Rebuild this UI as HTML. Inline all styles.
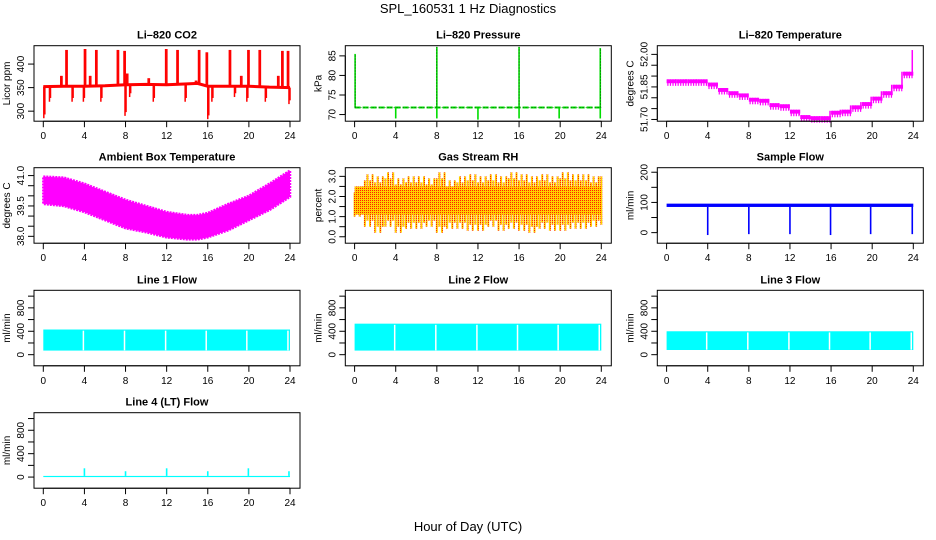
<!DOCTYPE html>
<html><head><meta charset="utf-8">
<style>
body{margin:0;background:#fff;}
svg{display:block;font-family:"Liberation Sans",sans-serif;}
</style></head>
<body>
<svg id="chart" width="936" height="540" viewBox="0 0 936 540" xmlns="http://www.w3.org/2000/svg">
<defs>
<pattern id="rhpat" width="2" height="2" patternUnits="userSpaceOnUse">
<rect width="2" height="2" fill="#ffd000"/><rect x="0" y="0" width="1" height="1" fill="#ff2000"/>
</pattern>
</defs>
<text x="468" y="13" text-anchor="middle" font-size="13">SPL_160531  1 Hz Diagnostics</text>
<text x="468" y="531" text-anchor="middle" font-size="13">Hour of Day (UTC)</text>
</svg>
<script>
const xTicks = [0,4,8,12,16,20,24];
// CO2
const co2BaseH = [0,2,4,6,8,10,12,14,15,16,18,20,22,24];
const co2Base = [352,353,353,354,356,357,356,358,359,353,353,353,351,350];
const co2SpikeH = [2.2,4.0,5.1,7.2,7.85,11.9,13.0,15.1,15.85,18.1,19.9,21.0,23.2,23.75,1.7,4.5,8.1,10.2,14.8,19.2,22.8];
const co2SpikeV = [430,432,430,430,428,432,430,430,425,430,430,430,428,428,375,375,380,370,365,375,375];
const co2DipH = [0.05,0.6,2.8,3.9,5.6,7.95,8.4,10.7,13.8,16.0,16.4,18.6,19.8,21.6,23.9];
const co2DipV = [285,320,320,320,320,290,330,320,320,283,320,330,320,320,315];
// Pressure
const presBase = 71.8;
const presUpH = [0.05,8.0,16.0,23.9];
const presUpV = [85.5,87.3,87.3,87.0];
const presDnH = [4.0,8.0,12.0,16.0,19.9,23.9];
const presDnV = [69.0,69.0,68.7,69.0,69.0,69.0];
// Li-820 temperature (hourly)
const tempH = [0,1,2,3,4,5,6,7,8,9,10,11,12,13,14,15,16,17,18,19,20,21,22,23,24];
const tempV = [51.885,51.885,51.885,51.885,51.87,51.845,51.83,51.82,51.8,51.795,51.775,51.77,51.745,51.72,51.715,51.715,51.74,51.745,51.765,51.78,51.805,51.83,51.86,51.92,52.02];
// Ambient box temperature envelope
const ambH = [0,2,4,6,8,10,12,14,15,16,18,20,22,24];
const ambHi = [40.95,40.9,40.6,40.2,39.8,39.5,39.2,39.05,39.05,39.15,39.6,40.0,40.6,41.25];
const ambLo = [39.6,39.5,39.2,38.8,38.4,38.2,37.95,37.85,37.85,37.95,38.3,38.8,39.3,39.95];
// Gas stream RH (hourly extremes)
const rhHi = [2.5,3.1,3.0,3.2,2.9,3.0,3.0,2.9,3.2,2.8,3.0,3.1,3.0,3.1,3.0,3.2,3.1,3.0,3.1,3.0,3.2,3.1,3.1,3.0,3.3];
const rhLo = [1.0,0.5,0.2,0.5,0.2,0.4,0.4,0.5,0.2,0.4,0.4,0.3,0.3,0.5,0.3,0.4,0.3,0.2,0.4,0.3,0.3,0.4,0.4,0.5,0.6];
const rhCore = [1.1,2.5];
// Sample flow
const sfBand = [85,96];
const sfDipH = [4.0,8.0,12.0,15.95,19.85,23.9];
const sfDipV = [-8,-5,-5,-8,-5,-5];
// Line flows
const l1Band = [70,430];
const l2Band = [70,530];
const l3Band = [80,400];
const lineGapH = [3.9,7.9,11.9,15.85,19.8,23.8];
const l4Base = [0,20];
const l4SpikeH = [4.0,8.0,12.0,16.0,19.95,23.9];
const l4SpikeV = [150,100,150,100,150,100];

const NS = "http://www.w3.org/2000/svg";
const svg = document.getElementById('chart');
const colL = [34,345.3,657.3], rowT = [45.7,167.7,290.3,412.7], PW=266, PH=75.5;
function mk(tag, attrs, parent){const e=document.createElementNS(NS,tag);for(const k in attrs)e.setAttribute(k,attrs[k]);(parent||svg).appendChild(e);return e;}

function panel(c,r,ymin,ymax,title,ylab,yt,ytl,name){
  const L=colL[c],T=rowT[r];
  const g=mk('g',{});
  
  
  const X=h=>L+9.3+h*(246.7/24);
  const Y=v=>T+PH-(v-ymin)/(ymax-ymin)*PH;
  const t=mk('text',{x:L+PW/2,y:T-7,'text-anchor':'middle','font-size':11,'font-weight':'bold'},g);
  t.textContent=title;
  
  
  const plot=mk('g',{},g);
  
  
  const B=T+PH;
  const xa=mk('g',{stroke:'#000','stroke-width':1,fill:'none'},g);
  
  
  mk('line',{x1:X(0),x2:X(24),y1:B,y2:B},xa);
  xTicks.forEach(v=>{mk('line',{x1:X(v),x2:X(v),y1:B,y2:B+6},xa);
    const tl=mk('text',{x:X(v),y:B+18,'text-anchor':'middle','font-size':10,fill:'#000',stroke:'none'},g);tl.textContent=v;
    
    });
  const ya=mk('g',{stroke:'#000','stroke-width':1,fill:'none'},g);
  
  
  mk('line',{x1:L,x2:L,y1:Y(yt[0]),y2:Y(yt[yt.length-1])},ya);
  yt.forEach((v,i)=>{mk('line',{x1:L,x2:L-6,y1:Y(v),y2:Y(v)},ya);
    if(ytl[i]){const tl=mk('text',{transform:`translate(${L-10},${Y(v)}) rotate(-90)`,'text-anchor':'middle','font-size':10,fill:'#000',stroke:'none'},g);tl.textContent=ytl[i];
    
    }});
  const yl=mk('text',{transform:`translate(${L-24},${T+PH/2}) rotate(-90)`,'text-anchor':'middle','font-size':10},g);
  yl.textContent=ylab;
  
  
  const box=mk('rect',{x:L,y:T,width:PW,height:PH,fill:'none',stroke:'#000','stroke-width':1},g);
  
  
  return {X,Y,g:plot};
}
function interp(hs,vs,h){for(let i=0;i<hs.length-1;i++){if(h<=hs[i+1]){const f=(h-hs[i])/(hs[i+1]-hs[i]);return vs[i]+f*(vs[i+1]-vs[i]);}}return vs[vs.length-1];}
function vline(p,h,a,b,col,w){return mk('line',{x1:p.X(h),x2:p.X(h),y1:p.Y(a),y2:p.Y(b),stroke:col,'stroke-width':w||1.2},p.g);}

// CO2
let p=panel(0,0,278.7,439,'Li\u2013820 CO2','Licor ppm',[300,350,400],['300','350','400'],'co2');
let d='';co2BaseH.forEach((h,i)=>{d+=(i?'L':'M')+p.X(h)+' '+p.Y(co2Base[i]);});
mk('path',{d,fill:'none',stroke:'#ff0000','stroke-width':3},p.g);
co2SpikeH.forEach((h,i)=>{const b=interp(co2BaseH,co2Base,h);vline(p,h,b,co2SpikeV[i],'#ff0000',1.5);vline(p,h+0.12,b,co2SpikeV[i],'#ff0000',1.5);});
co2DipH.forEach((h,i)=>{const b=interp(co2BaseH,co2Base,h);vline(p,h,b,co2DipV[i],'#ff0000',1.5);vline(p,h+0.1,b,co2DipV[i]+8,'#ff0000',1.5);});

// Pressure
p=panel(1,0,68.3,87.6,'Li\u2013820 Pressure','kPa',[70,75,80,85],['70','75','80','85'],'pressure');
mk('line',{x1:p.X(0),x2:p.X(24),y1:p.Y(presBase),y2:p.Y(presBase),stroke:'#00dd00','stroke-width':2,'stroke-dasharray':'6 2'},p.g);
mk('line',{x1:p.X(0),x2:p.X(24),y1:p.Y(presBase),y2:p.Y(presBase),stroke:'#000','stroke-width':0.6,'stroke-dasharray':'1 2'},p.g);
presUpH.forEach((h,i)=>{vline(p,h,presBase,presUpV[i],'#00dd00',1.6);mk('line',{x1:p.X(h),x2:p.X(h),y1:p.Y(presBase),y2:p.Y(presUpV[i]),stroke:'#000','stroke-width':0.6,'stroke-dasharray':'1 2'},p.g);});
presDnH.forEach((h,i)=>vline(p,h,presBase,presDnV[i],'#00dd00',1.6));

// Li-820 temperature
p=panel(2,0,51.692,52.04,'Li\u2013820 Temperature','degrees C',[51.70,51.75,51.80,51.85,51.90,51.95,52.00],['51.70','','','51.85','','','52.00'],'li820-temp');
tempH.forEach((h,i)=>{if(i==tempH.length-1)return;const v=tempV[i];
  mk('rect',{x:p.X(h),y:p.Y(v),width:p.X(1)-p.X(0),height:p.Y(v-0.018)-p.Y(v),fill:'#ff00ff'},p.g);
  for(let k=1;k<8;k+=2) vline(p,h+k*0.125,v-0.03,v,'#ff00ff',1.2);
  vline(p,h+0.9,v-0.018,tempV[i+1],'#ff00ff',1.5);});

// Ambient
p=panel(0,1,37.66,41.39,'Ambient Box Temperature','degrees C',[38.0,38.5,39.0,39.5,40.0,40.5,41.0],['38.0','','','39.5','','','41.0'],'ambient-temp');
let up='',lo='';ambH.forEach((h,i)=>{up+=(i?'L':'M')+p.X(h)+' '+p.Y(ambHi[i]);});
for(let i=ambH.length-1;i>=0;i--)lo+='L'+p.X(ambH[i])+' '+p.Y(ambLo[i]);
mk('path',{d:up+lo+'Z',fill:'#ff00ff',stroke:'#ff00ff','stroke-width':2.5,'stroke-dasharray':'2 1'},p.g);

// RH
p=panel(1,1,-0.32,3.43,'Gas Stream RH','percent',[0,0.5,1,1.5,2,2.5,3],['0.0','','1.0','','2.0','','3.0'],'gas-rh');
rhHi.forEach((v,i)=>{for(let k=0;k<4;k++){const h=i+k*0.25;if(h>24)continue;
  const a=k%2?rhLo[i]+0.3:rhLo[i], b=k%2?v:v-0.3;
  mk('rect',{x:p.X(h)-1,y:p.Y(b),width:2,height:p.Y(a)-p.Y(b),fill:'url(#rhpat)'},p.g);}});
mk('rect',{x:p.X(0),y:p.Y(rhCore[1]),width:p.X(24)-p.X(0),height:p.Y(rhCore[0])-p.Y(rhCore[1]),fill:'url(#rhpat)'},p.g);

// Sample flow
p=panel(2,1,-35,215,'Sample Flow','ml/min',[0,50,100,150,200],['0','','100','','200'],'sample-flow');
mk('rect',{x:p.X(0),y:p.Y(sfBand[1]),width:p.X(24)-p.X(0),height:p.Y(sfBand[0])-p.Y(sfBand[1]),fill:'#0000ff'},p.g);
sfDipH.forEach((h,i)=>vline(p,h,sfBand[0],sfDipV[i],'#0000ff',1.6));

// Line flows
function flow(c,r,band,title,name){
  const q=panel(c,r,-190,1100,title,'ml/min',[0,200,400,600,800,1000],['0','','400','','800',''],name);
  mk('rect',{x:q.X(0),y:q.Y(band[1]),width:q.X(24)-q.X(0),height:q.Y(band[0])-q.Y(band[1]),fill:'#00ffff'},q.g);
  lineGapH.forEach(h=>vline(q,h,band[0]+5,band[1]-20,'#ffffff',1.5));
  return q;}
flow(0,2,l1Band,'Line 1 Flow','line1-flow');
flow(1,2,l2Band,'Line 2 Flow','line2-flow');
flow(2,2,l3Band,'Line 3 Flow','line3-flow');
p=panel(0,3,-190,1100,'Line 4 (LT) Flow','ml/min',[0,200,400,600,800,1000],['0','','400','','800',''],'line4-flow');
mk('rect',{x:p.X(0),y:p.Y(l4Base[1]),width:p.X(24)-p.X(0),height:p.Y(l4Base[0])-p.Y(l4Base[1]),fill:'#00ffff'},p.g);
l4SpikeH.forEach((h,i)=>vline(p,h,l4Base[1],l4SpikeV[i],'#00ffff',1.6));
</script>
</body></html>
